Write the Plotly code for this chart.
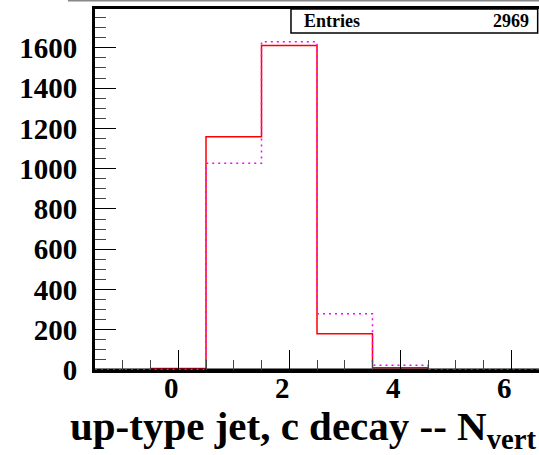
import plotly.graph_objects as go

# ---- data ----
bin_centers = [-1, 0, 1, 2, 3, 4, 5, 6]
bin_width = 1.0
red_counts = [0, 8, 1158, 1612, 180, 11, 0, 0]
magenta_counts = [0, 2, 1027, 1630, 280, 24, 0, 0]
entries_label = "Entries"
entries_value = "2969"
x_title = "up-type jet, c decay -- N<sub>vert</sub>"
x_range = [-1.5, 6.5]
y_range = [0, 1793]

def step_xy(centers, counts, w):
    xs = [c - w / 2 for c in centers] + [centers[-1] + w / 2]
    ys = list(counts) + [counts[-1]]
    return xs, ys

FONT = "Liberation Serif"

fig = go.Figure()
rx, ry = step_xy(bin_centers, red_counts, bin_width)
fig.add_trace(go.Scatter(x=rx, y=ry, mode="lines", line=dict(shape="hv", color="#ff0000", width=1.5),
                         showlegend=False, hoverinfo="skip"))
# bottom axis line drawn between the two histograms
fig.add_trace(go.Scatter(x=x_range, y=[y_range[0], y_range[0]], mode="lines",
                         line=dict(color="black", width=3), showlegend=False, hoverinfo="skip"))
mx, my = step_xy(bin_centers, magenta_counts, bin_width)
fig.add_trace(go.Scatter(x=mx, y=my, mode="lines",
                         line=dict(shape="hv", color="#ff00ff", width=1.5, dash="2px,4px"),
                         showlegend=False, hoverinfo="skip"))

fig.update_layout(
    width=539, height=455,
    margin=dict(l=95, r=0, t=9, b=85),
    paper_bgcolor="white", plot_bgcolor="white",
    font=dict(family=FONT, color="black"),
)
fig.update_xaxes(
    range=x_range, showgrid=False, zeroline=False,
    showline=True, linecolor="black", linewidth=3, mirror=True,
    ticks="inside", ticklen=20, tickwidth=1, tickcolor="black",
    dtick=2, tick0=0,
    minor=dict(dtick=0.5, tick0=0, ticks="inside", ticklen=10, tickwidth=1, tickcolor="#444"),
    tickfont=dict(family=FONT, size=29, color="black", weight="bold"),
    ticklabelstandoff=-10, ticklabelshift=-7,
)
fig.update_yaxes(
    range=y_range, showgrid=False, zeroline=False,
    showline=True, linecolor="black", linewidth=3,
    ticks="inside", ticklen=21, tickwidth=1, tickcolor="black",
    dtick=200, tick0=0,
    minor=dict(dtick=50, tick0=0, ticks="inside", ticklen=11, tickwidth=1, tickcolor="#444"),
    tickfont=dict(family=FONT, size=29, color="black", weight="bold"),
    ticklabelstandoff=9,
)

# stats box
fig.add_shape(type="rect", xref="paper", yref="paper", x0=0.4414, x1=0.997, y0=0.9335, y1=1.0,
              line=dict(color="black", width=1.5), fillcolor="white", layer="above")
fig.add_annotation(xref="paper", yref="paper", x=0.466, y=0.967, xanchor="left", yanchor="middle",
                   text="<b>%s</b>" % entries_label, showarrow=False,
                   font=dict(family=FONT, size=18, color="black"))
fig.add_annotation(xref="paper", yref="paper", x=0.981, y=0.967, xanchor="right", yanchor="middle",
                   text="<b>%s</b>" % entries_value, showarrow=False,
                   font=dict(family=FONT, size=18, color="black"))
# gray strip at top
fig.add_shape(type="line", xref="paper", yref="paper", x0=-0.061, x1=1.01, y0=1.0235, y1=1.0235,
              line=dict(color="#888888", width=2))
# x title
fig.add_annotation(xref="paper", yref="paper", x=1.0, y=-0.242, xanchor="right", yanchor="bottom",
                   text="<b>%s</b>" % x_title, showarrow=False,
                   font=dict(family=FONT, size=41, color="black"))

fig.write_html("out.html")
